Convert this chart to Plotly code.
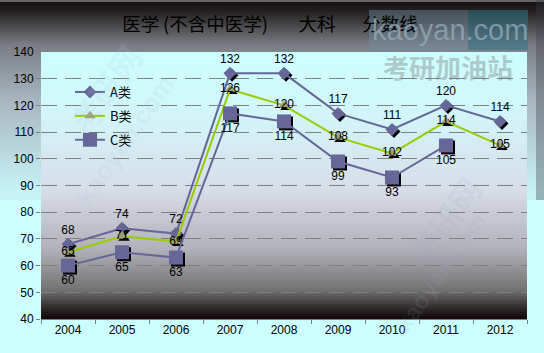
import plotly.graph_objects as go

years = ["2004", "2005", "2006", "2007", "2008", "2009", "2010", "2011", "2012"]
a_vals = [68, 74, 72, 132, 132, 117, 111, 120, 114]
b_vals = [65, 71, 69, 126, 120, 108, 102, 114, 105]
c_vals = [60, 65, 63, 117, 114, 99, 93, 105, None]
y_ticks = [40, 50, 60, 70, 80, 90, 100, 110, 120, 130, 140]

W, H = 544, 353
ML, MR, MT, MB = 41, 17, 52, 34
PW, PH = W - ML - MR, H - MT - MB

def hex2rgb(h):
    h = h.lstrip("#")
    return tuple(int(h[i:i + 2], 16) for i in (0, 2, 4))

def interp(stops, y):
    for (y0, c0), (y1, c1) in zip(stops, stops[1:]):
        if y0 <= y <= y1:
            t = 0 if y1 == y0 else (y - y0) / (y1 - y0)
            a, b = hex2rgb(c0), hex2rgb(c1)
            return "rgb(%d,%d,%d)" % tuple(round(a[i] + (b[i] - a[i]) * t) for i in range(3))
    return stops[-1][1]

def py(px):
    return (H - MB - px) / PH

def px_x(px):
    return (px - ML) / PW

shapes = []
outer = [(0, "#b8b8b8"), (2, "#141010"), (12, "#262222"), (45, "#7a7e84"),
         (100, "#a8b6c0"), (190, "#c6f2f6"), (353, "#ccffff")]
step = 2
for y0 in range(0, 200, step):
    shapes.append(dict(type="rect", xref="paper", yref="paper", layer="below",
                       x0=-ML / PW - 0.01, x1=(PW + MR) / PW + 0.01,
                       y0=py(y0 + step), y1=py(y0), line_width=0,
                       fillcolor=interp(outer, y0 + step / 2)))
shapes.append(dict(type="rect", xref="paper", yref="paper", layer="below",
                   x0=px_x(536), x1=(PW + MR) / PW + 0.01, y0=py(200), y1=py(0),
                   line_width=0, fillcolor="rgba(60,60,70,0.35)"))
# watermark boxes (top right)
shapes.append(dict(type="rect", xref="paper", yref="paper", layer="below",
                   x0=px_x(369), x1=px_x(468), y0=py(50), y1=py(10),
                   line_width=0, fillcolor="rgba(110,140,160,0.45)"))
shapes.append(dict(type="rect", xref="paper", yref="paper", layer="below",
                   x0=px_x(468), x1=px_x(528), y0=py(50), y1=py(10),
                   line_width=0, fillcolor="rgba(50,115,135,0.55)"))
inner = [(52, "#ccffff"), (120, "#d2f4f8"), (190, "#d8dde8"), (250, "#b0b0b8"),
         (290, "#727272"), (308, "#302a2a"), (319, "#100808")]
for y0 in range(52, 319, step):
    y1 = min(y0 + step, 319)
    shapes.append(dict(type="rect", xref="paper", yref="paper", layer="below",
                       x0=0, x1=1, y0=py(y1), y1=py(y0), line_width=0,
                       fillcolor=interp(inner, (y0 + y1) / 2)))

fig = go.Figure()

# invisible anchor trace so the main axes are drawn
fig.add_trace(go.Scatter(x=years, y=a_vals, mode="markers", marker=dict(opacity=0),
                         showlegend=False, hoverinfo="skip"))

for vals, sym, size in [(a_vals, "diamond", 10), (b_vals, "triangle-up", 10), (c_vals, "square", 14)]:
    fig.add_trace(go.Scatter(x=years, y=vals, mode="markers", xaxis="x2", yaxis="y2",
                             marker=dict(symbol=sym, size=size, color="#000000"),
                             showlegend=False, hoverinfo="skip"))

lab_font = dict(size=12, color="#000000", family="Liberation Sans")
fig.add_trace(go.Scatter(x=years, y=a_vals, name="A类", legendgroup="a", mode="lines+markers+text",
                         xaxis="x3", yaxis="y3",
                         line=dict(color="#666699", width=2),
                         marker=dict(symbol="diamond", size=10, color="#666699"),
                         text=[str(v) for v in a_vals], textposition="top center", textfont=lab_font))
fig.add_trace(go.Scatter(x=years, y=b_vals, name="B类", legendgroup="b", mode="lines+markers+text",
                         xaxis="x3", yaxis="y3",
                         line=dict(color="#99cc00", width=2),
                         marker=dict(symbol="triangle-up", size=10, color="#a0a070"),
                         text=[str(v) for v in b_vals], textposition="middle center", textfont=lab_font))
fig.add_trace(go.Scatter(x=years, y=c_vals, name="C类", legendgroup="c", mode="lines+markers+text",
                         xaxis="x3", yaxis="y3",
                         line=dict(color="#666699", width=2),
                         marker=dict(symbol="square", size=14, color="#666699"),
                         text=[("" if v is None else str(v)) for v in c_vals], textposition="bottom center",
                         textfont=lab_font))

dx = 2 / (PW / len(years))
dy = 2 * 100 / PH

def ann(text, x, y, size, color, family, angle=0):
    return dict(text=text, xref="paper", yref="paper", x=px_x(x), y=py(y), xanchor="center",
                yanchor="middle", textangle=angle, showarrow=False,
                font=dict(size=size, color=color, family=family))

annotations = [
    ann("kaoyan.com", 450, 30, 29, "rgba(150,170,185,0.75)", "Liberation Sans"),
    ann("<b>考研加油站</b>", 448, 66, 26, "rgba(120,120,120,0.40)", "Noto Sans CJK SC"),
    ann("<b>考研网</b>", 105, 88, 32, "rgba(170,200,215,0.16)", "Noto Sans CJK SC", -55),
    ann("<b>kaoyan.com</b>", 125, 140, 26, "rgba(170,200,215,0.16)", "Liberation Sans", -55),
    ann("<b>考研网</b>", 445, 220, 32, "rgba(150,170,190,0.14)", "Noto Sans CJK SC", -55),
    ann("<b>kaoyan.com</b>", 440, 272, 24, "rgba(150,170,190,0.14)", "Liberation Sans", -55),
]

title_text = "医学\u2009(不含中医学)\u2009　  大科　  分数线"

fig.update_layout(
    width=W, height=H,
    margin=dict(l=ML, r=MR, t=MT, b=MB),
    paper_bgcolor="#ccffff", plot_bgcolor="rgba(0,0,0,0)",
    shapes=shapes, annotations=annotations,
    title=dict(text=title_text, x=px_x(270), xref="paper", xanchor="center",
               y=1 - 25 / H, yanchor="middle",
               font=dict(size=18.5, color="#000000", family="Noto Sans CJK SC")),
    font=dict(family="Liberation Sans", size=12, color="#000000"),
    showlegend=True,
    legend=dict(x=px_x(70), y=py(77), xanchor="left", yanchor="top",
                bgcolor="rgba(0,0,0,0)", font=dict(size=13, family="Noto Sans CJK SC"),
                tracegroupgap=4, itemwidth=30),
    xaxis=dict(type="category", categoryarray=years, range=[-0.5, 8.5], tickson="boundaries",
               ticks="outside", ticklen=4, tickcolor="#808080", showgrid=False,
               showline=True, linecolor="#808080", linewidth=1, zeroline=False,
               tickfont=dict(size=12)),
    yaxis=dict(range=[40, 140], tickvals=y_ticks, ticks="outside", ticklen=4, tickcolor="#808080",
               showgrid=True, gridcolor="#808080", gridwidth=1, griddash="16px,8px",
               showline=False, zeroline=False, tickfont=dict(size=12)),
    xaxis2=dict(type="category", categoryarray=years, range=[-0.5 - dx, 8.5 - dx], overlaying="x",
                visible=False),
    yaxis2=dict(range=[40 + dy, 140 + dy], overlaying="y", visible=False),
    xaxis3=dict(type="category", categoryarray=years, range=[-0.5, 8.5], overlaying="x", visible=False),
    yaxis3=dict(range=[40, 140], overlaying="y", visible=False),
)

fig.write_html("out.html")
